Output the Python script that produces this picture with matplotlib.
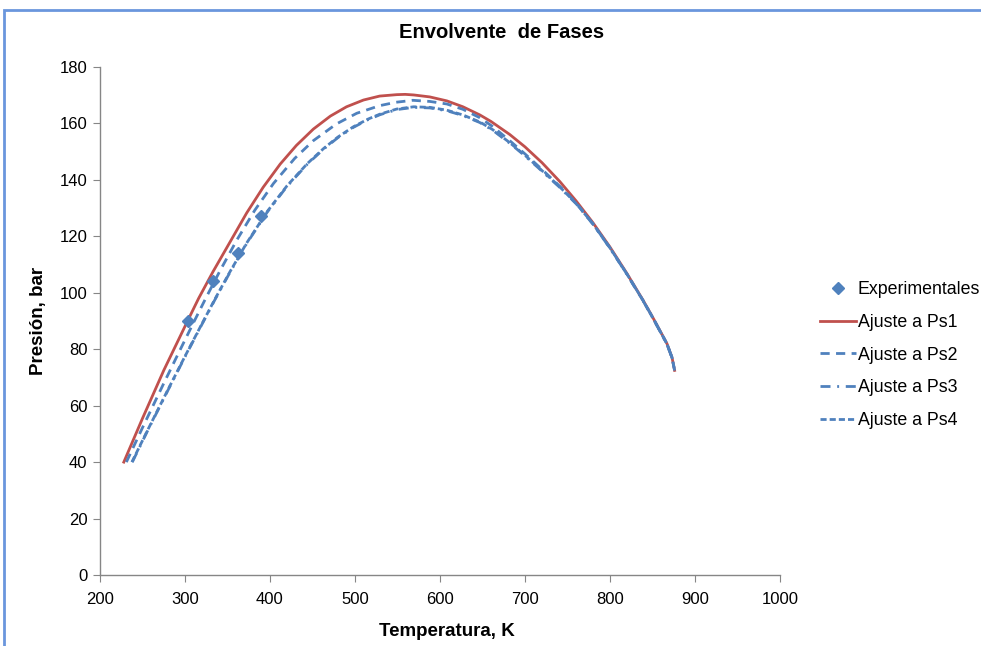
import matplotlib.pyplot as plt
from matplotlib.patches import Rectangle

plt.rcParams['font.family'] = ['Liberation Sans', 'DejaVu Sans']

# Experimental points
t_exp = [303, 333.5, 362.5, 389.5]
p_exp = [89.9, 104.1, 114.2, 127.2]

# Ajuste a Ps1
t_ps1 = [228, 250, 275, 303, 316, 333, 353, 372.6, 392, 412, 431, 451, 471, 490, 510,
         529, 549, 559, 569, 588, 608, 627, 647, 660, 682, 700, 720, 741, 760, 780, 800,
         820, 839, 851, 860, 867, 873, 876]
p_ps1 = [40, 55.5, 72.5, 90, 98, 107.5, 118, 128.3, 137.4, 145.6, 152.2, 158, 162.6, 165.9, 168.3,
         169.7, 170.2, 170.3, 170.1, 169.4, 168.0, 165.9, 163.0, 160.7, 156.1, 151.7, 146.1, 139.4, 132.6, 124.8, 116.2,
         106.8, 97.3, 90.9, 85.9, 82.0, 77.0, 72.5]

# Ajuste a Ps2
t_ps2 = [231, 250, 275, 292, 310, 325.5, 341, 361, 382, 404, 429, 451, 478, 502, 529,
         548, 568, 588, 608, 627, 647, 662, 682, 700, 720, 741, 760, 780, 800, 820,
         839, 851, 860, 867, 873, 876]
p_ps2 = [40, 52.2, 67.9, 78.4, 89.4, 98.7, 107.7, 118.7, 129.2, 138.7, 147.6, 153.9, 159.8, 163.6, 166.3,
         167.5, 168.2, 167.8, 166.9, 165.0, 162.0, 158.9, 153.9, 149.2, 143.7, 137.7, 131.9, 124.4, 115.9, 106.6,
         97.2, 90.8, 85.8, 81.9, 77.0, 72.5]

# Ajuste a Ps3
t_ps3 = [238, 255, 280, 300, 318, 335.3, 353, 372.5, 397, 420, 444, 463, 480, 498, 515,
         529.4, 549, 569, 588, 608, 627, 647, 662, 682, 700, 720, 741, 760, 780, 800,
         820, 839, 851, 860, 867, 873, 876]
p_ps3 = [40, 50.5, 65.5, 77.3, 87.7, 97.6, 107.3, 117.4, 128.7, 137.7, 145.6, 150.9, 155.0, 158.6, 161.3,
         163.1, 164.9, 165.7, 165.5, 164.5, 162.8, 160.3, 157.6, 153.0, 148.5, 143.1, 137.3, 131.6, 124.3, 115.8,
         106.5, 97.1, 90.7, 85.7, 81.8, 76.9, 72.5]

# Ajuste a Ps4
t_ps4 = [237.5, 255, 280, 300, 318, 335.3, 353, 372.5, 397, 420, 444, 463, 480, 498, 515,
         529.4, 549, 569, 588, 608, 627, 647, 662, 682, 700, 720, 741, 760, 780, 800,
         820, 839, 851, 860, 867, 873, 876]
p_ps4 = [40, 50.7, 65.7, 77.5, 87.9, 97.8, 107.5, 117.6, 128.9, 137.9, 145.8, 151.1, 155.2, 158.8, 161.5,
         163.3, 165.1, 165.9, 165.7, 164.7, 163.0, 160.5, 157.8, 153.2, 148.7, 143.3, 137.5, 131.7, 124.4, 115.9,
         106.6, 97.2, 90.8, 85.8, 81.9, 77.0, 72.5]

blue = '#4F81BD'
red = '#C0504D'

fig = plt.figure(figsize=(9.81, 6.46), dpi=100, facecolor='white')
ax = fig.add_axes([100/981, 1-575/646, 680/981, 508/646])

ax.plot(t_ps1, p_ps1, color=red, lw=2.0, label='Ajuste a Ps1')
ax.plot(t_ps2, p_ps2, color=blue, lw=2.0, dashes=(3.3, 2.3), label='Ajuste a Ps2')
ax.plot(t_ps3, p_ps3, color=blue, lw=2.0, dashes=(3.6, 2.4, 0.7, 2.4), label='Ajuste a Ps3')
ax.plot(t_ps4, p_ps4, color=blue, lw=2.0, dashes=(2.2, 1.1), label='Ajuste a Ps4')
ax.plot(t_exp, p_exp, linestyle='none', marker='D', color=blue, markersize=6.5,
        label='Experimentales', zorder=5)

ax.set_xlim(200, 1000)
ax.set_ylim(0, 180)
ax.set_xticks(range(200, 1001, 100))
ax.set_yticks(range(0, 181, 20))
for s in ['top', 'right']:
    ax.spines[s].set_visible(False)
for s in ['left', 'bottom']:
    ax.spines[s].set_color('#868686')
    ax.spines[s].set_linewidth(1.0)
ax.tick_params(direction='out', length=5, color='#868686', labelsize=12)
ax.tick_params(axis='x', pad=7)
ax.tick_params(axis='y', pad=4)

ax.set_xlabel('Temperatura, K', fontsize=13.5, fontweight='bold')
ax.xaxis.set_label_coords(0.51, -0.095)
ax.set_ylabel('Presión, bar', fontsize=13.5, fontweight='bold', labelpad=9)
fig.text(0.511, 0.950, 'Envolvente  de Fases', fontsize=14.5, fontweight='bold',
         ha='center', va='center')

handles, labels = ax.get_legend_handles_labels()
order = [4, 0, 1, 2, 3]
fig.legend([handles[i] for i in order], [labels[i] for i in order],
           loc='center left', bbox_to_anchor=(820/981, 1-355/646), frameon=False,
           fontsize=12.8, handlelength=2.05, handletextpad=0.08, labelspacing=0.88,
           borderpad=0, borderaxespad=0)

# outer chart frame
fig.patches.append(Rectangle((4/981, -0.2), 1.2, 1.2 - 10/646, transform=fig.transFigure,
                             fill=False, edgecolor='#6A96DD', lw=2.0, zorder=0))

fig.savefig('out.png', dpi=100)
